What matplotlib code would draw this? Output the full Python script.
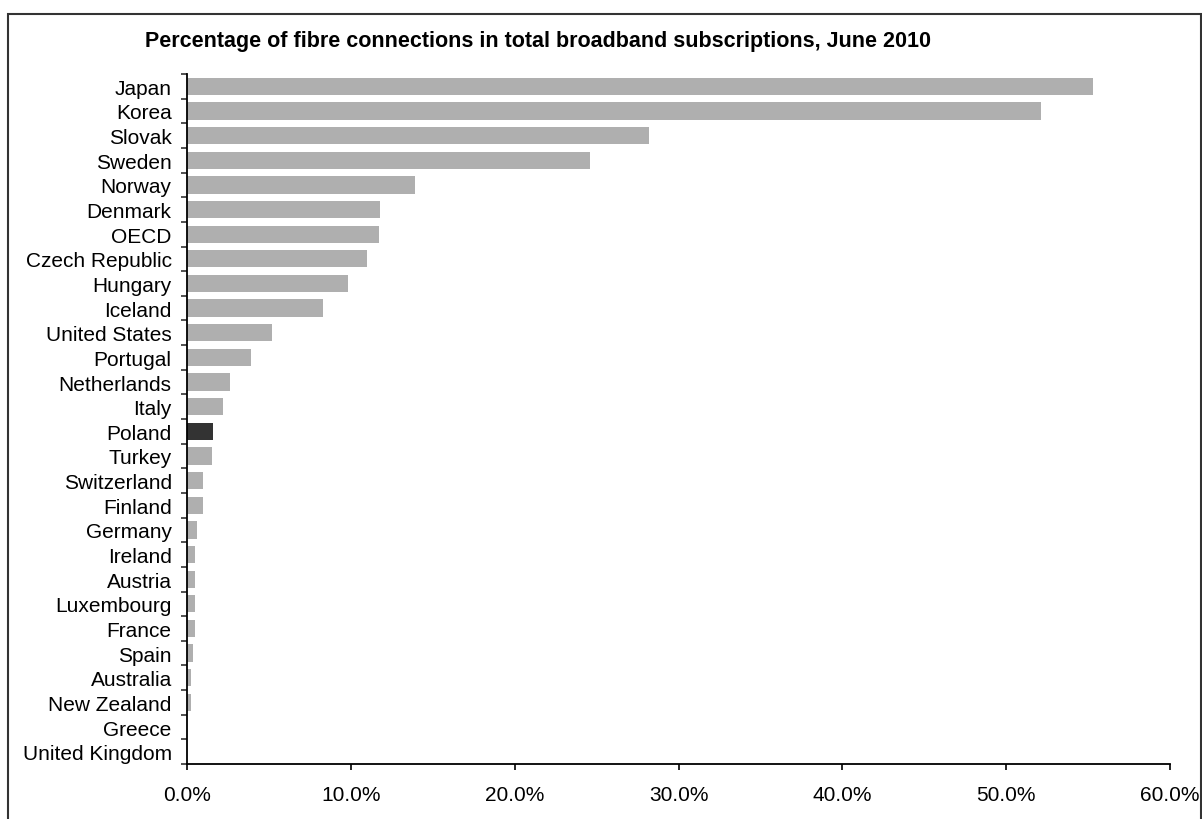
import matplotlib
matplotlib.use("Agg")
import matplotlib.pyplot as plt
from matplotlib.ticker import FuncFormatter, FixedLocator
from matplotlib.patches import Rectangle

countries = ["Japan", "Korea", "Slovak", "Sweden", "Norway", "Denmark", "OECD",
             "Czech Republic", "Hungary", "Iceland", "United States", "Portugal",
             "Netherlands", "Italy", "Poland", "Turkey", "Switzerland", "Finland",
             "Germany", "Ireland", "Austria", "Luxembourg", "France", "Spain",
             "Australia", "New Zealand", "Greece", "United Kingdom"]
values = [55.3, 52.1, 28.2, 24.6, 13.9, 11.8, 11.7,
          11.0, 9.8, 8.3, 5.2, 3.9,
          2.6, 2.2, 1.6, 1.5, 1.0, 1.0,
          0.6, 0.5, 0.5, 0.5, 0.5, 0.37,
          0.25, 0.25, 0.0, 0.0]
highlight = "Poland"
title = "Percentage of fibre connections in total broadband subscriptions, June 2010"
xticks = [0, 10, 20, 30, 40, 50, 60]

plt.rcParams['font.family'] = ['Liberation Sans', 'DejaVu Sans']

fig = plt.figure(figsize=(12.02, 8.2), dpi=100)
ax = fig.add_axes([187/1202, 1-765/820, (1170-187)/1202, (765-75)/820])

ypos = list(range(len(countries)))
colors = ["#333333" if c == highlight else "#AFAFAF" for c in countries]
ax.barh(ypos, values, height=0.7, color=colors, edgecolor="none")

ax.set_ylim(len(countries) - 0.5, -0.5)
ax.set_xlim(0, 60)
ax.set_yticks(ypos)
ax.set_yticklabels(countries, fontsize=15)
ax.tick_params(axis='y', which='major', length=0, pad=11)
ax.yaxis.set_minor_locator(FixedLocator([i - 0.5 for i in range(len(countries) + 1)]))
ax.tick_params(axis='y', which='minor', length=4, width=1.2, color='#333333')

ax.set_xticks(xticks)
ax.xaxis.set_major_formatter(FuncFormatter(lambda v, p: f"{v:.1f}%"))
ax.tick_params(axis='x', which='major', length=4, width=1.2, labelsize=15, pad=11)

for s in ["top", "right"]:
    ax.spines[s].set_visible(False)
for s in ["left", "bottom"]:
    ax.spines[s].set_linewidth(1.3)
    ax.spines[s].set_color("black")

fig.text(538/1202, 1-42/820, title, ha='center', va='center',
         fontsize=15.5, fontweight='bold')

fig.patches.append(Rectangle((8/1202, -0.01), (1201-8)/1202, 1-15/820 + 0.01,
                             transform=fig.transFigure, fill=False,
                             edgecolor='#333333', linewidth=1.5))

fig.savefig("out.png", dpi=100)
